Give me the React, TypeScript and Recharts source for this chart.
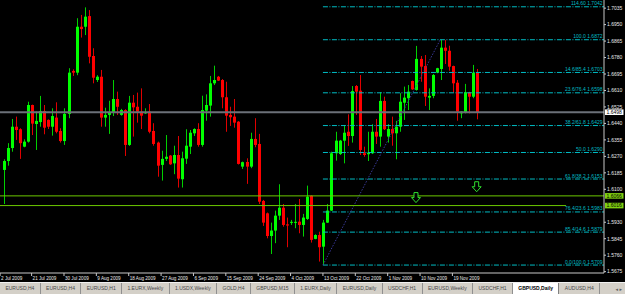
import { ComposedChart, Bar, XAxis, YAxis, ReferenceLine, ReferenceDot } from 'recharts';

// GBPUSD daily candles (bar 0 = first full candle on the left)
const OPEN = [
  1.6200, 1.6246, 1.6313, 1.6423, 1.6410, 1.6320, 1.6346, 1.6535, 1.6437, 1.6447,
  1.6504, 1.6458, 1.6423, 1.6470, 1.6401, 1.6349, 1.6489, 1.6711, 1.6702, 1.6939,
  1.6939, 1.6994, 1.6788, 1.6664, 1.6681, 1.6470, 1.6484, 1.6499, 1.6566, 1.6484,
  1.6509, 1.6329, 1.6547, 1.6526, 1.6501, 1.6492, 1.6501, 1.6401, 1.6341, 1.6226,
  1.6257, 1.6274, 1.6234, 1.6277, 1.6152, 1.6258, 1.6320, 1.6389, 1.6411, 1.6329,
  1.6506, 1.6532, 1.6647, 1.6681, 1.6664, 1.6575, 1.6484, 1.6475, 1.6449, 1.6217,
  1.6241, 1.6217, 1.6360, 1.6334, 1.6040, 1.5976, 1.5859, 1.5887, 1.5964, 1.6005,
  1.5919, 1.5928, 1.5928, 1.5933, 1.5916, 1.5947, 1.6067, 1.5844, 1.5864, 1.5804,
  1.5928, 1.5990, 1.6286, 1.6282, 1.6351, 1.6397, 1.6375, 1.6633, 1.6609, 1.6286,
  1.6281, 1.6286, 1.6397, 1.6372, 1.6556, 1.6372, 1.6411, 1.6389, 1.6423, 1.6547,
  1.6570, 1.6659, 1.6613, 1.6773, 1.6736, 1.6573, 1.6582, 1.6702, 1.6721, 1.6831,
  1.6815, 1.6736, 1.6650, 1.6492, 1.6498, 1.6601, 1.6578, 1.6702,
];
const HIGH = [
  1.6255, 1.6338, 1.6463, 1.6475, 1.6415, 1.6358, 1.6552, 1.6537, 1.6501, 1.6582,
  1.6535, 1.6461, 1.6518, 1.6549, 1.6415, 1.6518, 1.6725, 1.6719, 1.6983, 1.7000,
  1.7039, 1.7025, 1.6828, 1.6689, 1.6716, 1.6521, 1.6557, 1.6664, 1.6604, 1.6515,
  1.6513, 1.6582, 1.6587, 1.6599, 1.6621, 1.6518, 1.6540, 1.6441, 1.6346, 1.6299,
  1.6380, 1.6277, 1.6325, 1.6375, 1.6294, 1.6410, 1.6406, 1.6415, 1.6441, 1.6583,
  1.6590, 1.6685, 1.6738, 1.6685, 1.6669, 1.6655, 1.6526, 1.6566, 1.6452, 1.6243,
  1.6260, 1.6392, 1.6467, 1.6386, 1.6045, 1.5980, 1.5928, 1.5990, 1.6126, 1.6024,
  1.5954, 1.5942, 1.6024, 1.6050, 1.5973, 1.6119, 1.6069, 1.5868, 1.5881, 1.5942,
  1.6024, 1.6294, 1.6397, 1.6355, 1.6432, 1.6487, 1.6633, 1.6638, 1.6690, 1.6320,
  1.6397, 1.6436, 1.6463, 1.6601, 1.6578, 1.6437, 1.6475, 1.6453, 1.6596, 1.6630,
  1.6638, 1.6661, 1.6840, 1.6788, 1.6793, 1.6621, 1.6695, 1.6727, 1.6872, 1.6871,
  1.6841, 1.6738, 1.6664, 1.6503, 1.6644, 1.6603, 1.6742, 1.6721,
];
const LOW = [
  1.6024, 1.6222, 1.6294, 1.6355, 1.6257, 1.6317, 1.6341, 1.6380, 1.6303, 1.6423,
  1.6384, 1.6411, 1.6377, 1.6389, 1.6341, 1.6329, 1.6467, 1.6685, 1.6689, 1.6883,
  1.6896, 1.6750, 1.6647, 1.6654, 1.6423, 1.6423, 1.6386, 1.6478, 1.6484, 1.6480,
  1.6272, 1.6324, 1.6372, 1.6444, 1.6411, 1.6489, 1.6389, 1.6325, 1.6165, 1.6145,
  1.6246, 1.6226, 1.6178, 1.6109, 1.6109, 1.6231, 1.6282, 1.6375, 1.6320, 1.6320,
  1.6454, 1.6475, 1.6638, 1.6659, 1.6518, 1.6397, 1.6427, 1.6418, 1.6228, 1.6205,
  1.6128, 1.6209, 1.6317, 1.6024, 1.5911, 1.5847, 1.5766, 1.5822, 1.5942, 1.5907,
  1.5801, 1.5916, 1.5899, 1.5873, 1.5856, 1.5942, 1.5825, 1.5842, 1.5727, 1.5709,
  1.5926, 1.5988, 1.6248, 1.6277, 1.6234, 1.6324, 1.6341, 1.6484, 1.6277, 1.6268,
  1.6246, 1.6282, 1.6334, 1.6320, 1.6406, 1.6341, 1.6325, 1.6255, 1.6397, 1.6458,
  1.6509, 1.6613, 1.6609, 1.6655, 1.6530, 1.6509, 1.6570, 1.6699, 1.6664, 1.6747,
  1.6712, 1.6599, 1.6454, 1.6467, 1.6492, 1.6492, 1.6570, 1.6461,
];
const CLOSE = [
  1.6246, 1.6313, 1.6423, 1.6406, 1.6338, 1.6346, 1.6535, 1.6439, 1.6453, 1.6504,
  1.6418, 1.6423, 1.6478, 1.6397, 1.6349, 1.6489, 1.6702, 1.6702, 1.6939, 1.6927,
  1.6991, 1.6784, 1.6676, 1.6681, 1.6470, 1.6484, 1.6499, 1.6566, 1.6526, 1.6509,
  1.6329, 1.6547, 1.6523, 1.6501, 1.6480, 1.6499, 1.6397, 1.6334, 1.6222, 1.6257,
  1.6268, 1.6229, 1.6277, 1.6155, 1.6260, 1.6325, 1.6392, 1.6411, 1.6329, 1.6509,
  1.6535, 1.6647, 1.6664, 1.6661, 1.6575, 1.6480, 1.6472, 1.6444, 1.6231, 1.6240,
  1.6217, 1.6360, 1.6329, 1.6036, 1.5928, 1.5859, 1.5887, 1.5964, 1.6005, 1.5916,
  1.5913, 1.5932, 1.5932, 1.5916, 1.5954, 1.6062, 1.5839, 1.5864, 1.5801, 1.5928,
  1.5990, 1.6286, 1.6351, 1.6351, 1.6392, 1.6375, 1.6607, 1.6604, 1.6303, 1.6277,
  1.6289, 1.6397, 1.6372, 1.6556, 1.6410, 1.6411, 1.6389, 1.6423, 1.6552, 1.6573,
  1.6604, 1.6616, 1.6773, 1.6733, 1.6578, 1.6582, 1.6690, 1.6725, 1.6831, 1.6815,
  1.6733, 1.6647, 1.6501, 1.6501, 1.6601, 1.6578, 1.6702, 1.6498,
];

const PRICE_TICKS = [
  1.7035, 1.6950, 1.6865, 1.6780, 1.6695, 1.6610, 1.6525, 1.6440, 1.6355,
  1.6270, 1.6185, 1.6100, 1.5930, 1.5845, 1.5760, 1.5675,
];
const TICK_BARS = [-0.8, 7, 15, 23, 31, 39, 47, 55, 63, 71, 79, 87, 95, 103, 111];
const TICK_LABELS = [
  '2 Jul 2009', '21 Jul 2009', '30 Jul 2009', '9 Aug 2009', '18 Aug 2009',
  '27 Aug 2009', '6 Sep 2009', '15 Sep 2009', '24 Sep 2009', '4 Oct 2009',
  '13 Oct 2009', '22 Oct 2009', '1 Nov 2009', '10 Nov 2009', '19 Nov 2009',
];

const FIB_NAMES = [
  '114.60', '100.0', '14.6/85.4', '23.6/76.4', '38.2/61.8',
  '50.0', '61.8/38.2', '76.4/23.6', '85.4/14.6', '0.0/100.0',
];
const FIB_LEVELS = [1.7042, 1.6872, 1.6703, 1.6598, 1.6429, 1.6290, 1.6153, 1.5983, 1.5879, 1.5709];
const FIB_FROM = { bar: 79, price: 1.5709 };
const FIB_TO = { bar: 108, price: 1.6872 };

const GREEN_LINES = [1.6066, 1.6016];
const BID = 1.6498;
const ARROW_BARS = [102, 117];
const ARROW_PRICES = [1.6083, 1.6139];

const TABS = [
  'EURUSD,H4', 'EURUSD,H4', 'EURUSD,H1', '1.EURX,Weekly', '1.USDX,Weekly', 'GOLD,H4',
  'GBPUSD,M15', '1.EURX,Daily', 'EURUSD,Daily', 'USDCHF,H1', 'EURUSD,Weekly',
  'USDCHF,H1', 'GBPUSD,Daily', 'AUDUSD,H4',
];
const ACTIVE_TAB = 'GBPUSD,Daily';

const X_MIN = -0.816;
const X_MAX = 148.47;
const Y_MIN = 1.5668;
const Y_MAX = 1.7077;
const AXIS_Y = 273;
const FONT = '"Liberation Sans", Arial, sans-serif';
const FIB_COLOR = '#00bcc4';
const LINE_GREEN = '#6cc800';

const data = OPEN.map((open, i) => ({
  bar: i,
  open,
  high: HIGH[i],
  low: LOW[i],
  close: CLOSE[i],
  range: [LOW[i], HIGH[i]],
}));

const Candle = (props: any) => {
  const { x, y, width, height, payload } = props;
  if (!payload) return null;
  const { open, close, high, low } = payload;
  const cx = Math.round(x + width / 2) + 0.5;
  const k = height / (high - low);
  const yOf = (p: number) => y + (high - p) * k;
  const up = close >= open;
  const top = yOf(Math.max(open, close));
  const bot = yOf(Math.min(open, close));
  const body = up ? '#00ff00' : '#ff0000';
  const wick = up ? '#00d000' : '#e00000';
  return (
    <g>
      <line x1={cx} x2={cx} y1={y} y2={y + height} stroke={wick} strokeWidth={1} />
      <rect x={cx - 1.5} y={top} width={3} height={Math.max(bot - top, 1)} fill={body} />
    </g>
  );
};

const XTick = (props: any) => {
  const { x, index } = props;
  return (
    <g>
      <line x1={x} x2={x} y1={AXIS_Y} y2={AXIS_Y + 3} stroke="#c8c8c8" />
      <text x={x + 1} y={AXIS_Y + 6.5} fontSize={4.6} fontFamily={FONT} fill="#e8e8e8">
        {TICK_LABELS[index]}
      </text>
    </g>
  );
};

const YTick = (props: any) => {
  const { y, payload } = props;
  return (
    <g>
      <line x1={604} x2={606} y1={y} y2={y} stroke="#c8c8c8" />
      <text x={607} y={y + 1.8} fontSize={5} fontFamily={FONT} fill="#e8e8e8">
        {payload.value.toFixed(4)}
      </text>
    </g>
  );
};

const priceTag = (bg: string, text: string) => (props: any) => {
  const { cy } = props;
  return (
    <g>
      <rect x={605} y={cy - 2.8} width={18.5} height={5.6} fill={bg} />
      <text x={606.5} y={cy + 1.8} fontSize={5} fontFamily={FONT} fill="#000">
        {text}
      </text>
    </g>
  );
};

const fibLabel = (name: string, level: number) => (props: any) => {
  const { cx, cy } = props;
  return (
    <text x={cx - 1.5} y={cy - 1.5} textAnchor="end" fontSize={5} fontFamily={FONT} fill={FIB_COLOR}>
      {`${name}  ${level.toFixed(4)}`}
    </text>
  );
};

const DownArrow = (props: any) => {
  const { cx, cy } = props;
  const t = cy;
  const d = `M${cx - 2},${t} L${cx + 2},${t} L${cx + 2},${t + 5} L${cx + 4.5},${t + 5} L${cx},${t + 10} L${cx - 4.5},${t + 5} L${cx - 2},${t + 5} Z`;
  return <path d={d} fill="#000" stroke="#2ee02e" strokeWidth={1} />;
};

export default function App() {
  return (
    <div
      style={{
        position: 'absolute',
        left: 0,
        top: 0,
        width: 625,
        height: 294,
        background: '#000',
        overflow: 'hidden',
      }}
    >
      <ComposedChart width={625} height={294} data={data} margin={{ top: 0, right: 0, bottom: 0, left: 0 }}>
        <XAxis
          dataKey="bar"
          type="number"
          domain={[X_MIN, X_MAX]}
          allowDataOverflow
          ticks={TICK_BARS}
          interval={0}
          height={21}
          axisLine={{ stroke: '#c8c8c8' }}
          tickLine={false}
          tick={<XTick />}
        />
        <YAxis
          orientation="right"
          type="number"
          domain={[Y_MIN, Y_MAX]}
          allowDataOverflow
          ticks={PRICE_TICKS}
          interval={0}
          width={21}
          axisLine={{ stroke: '#c8c8c8' }}
          tickLine={false}
          tick={<YTick />}
        />
        <ReferenceLine y={BID} stroke="#6b7078" strokeWidth={2} ifOverflow="visible" />
        {FIB_LEVELS.map((lvl, i) => (
          <ReferenceLine
            key={`fib-${i}`}
            segment={[{ x: FIB_FROM.bar, y: lvl }, { x: X_MAX, y: lvl }]}
            stroke={FIB_COLOR}
            strokeDasharray="5 1.5 1 1.5"
            ifOverflow="visible"
          />
        ))}
        <ReferenceLine
          segment={[{ x: FIB_FROM.bar, y: FIB_FROM.price }, { x: FIB_TO.bar, y: FIB_TO.price }]}
          stroke="#3a3a9a"
          strokeDasharray="1.5 1.5"
          ifOverflow="visible"
        />
        <ReferenceLine y={GREEN_LINES[0]} stroke={LINE_GREEN} ifOverflow="visible" />
        <ReferenceLine
          segment={[{ x: X_MIN, y: GREEN_LINES[1] }, { x: 139.1, y: GREEN_LINES[1] }]}
          stroke={LINE_GREEN}
          ifOverflow="visible"
        />
        <Bar dataKey="range" barSize={3} isAnimationActive={false} shape={<Candle />} />
        {FIB_LEVELS.map((lvl, i) => (
          <ReferenceDot
            key={`fl-${i}`}
            x={X_MAX}
            y={lvl}
            ifOverflow="visible"
            shape={fibLabel(FIB_NAMES[i], lvl)}
          />
        ))}
        {ARROW_BARS.map((b, i) => (
          <ReferenceDot key={`ar-${i}`} x={b} y={ARROW_PRICES[i]} ifOverflow="visible" shape={<DownArrow />} />
        ))}
        <ReferenceDot x={X_MAX} y={BID} ifOverflow="visible" shape={priceTag('#ffffff', BID.toFixed(4))} />
        {GREEN_LINES.map((p, i) => (
          <ReferenceDot
            key={`gt-${i}`}
            x={X_MAX}
            y={p}
            ifOverflow="visible"
            shape={priceTag('#80d010', p.toFixed(4))}
          />
        ))}
      </ComposedChart>
      <div
        style={{
          position: 'absolute',
          left: 0,
          top: 282,
          width: 625,
          height: 12,
          background: '#d4d0c8',
          borderTop: '1px solid #f0f0f0',
          boxSizing: 'border-box',
          display: 'flex',
          alignItems: 'center',
          fontFamily: FONT,
          fontSize: 5,
          color: '#404040',
        }}
      >
        {TABS.map((t, i) => (
          <span
            key={i}
            style={{
              padding: '0 5.4px',
              height: 11,
              lineHeight: '11px',
              whiteSpace: 'nowrap',
              borderRight: t === ACTIVE_TAB ? '1px solid #808080' : '1px solid #909090',
              background: t === ACTIVE_TAB ? '#ffffff' : 'transparent',
              color: t === ACTIVE_TAB ? '#000' : '#484848',
              fontWeight: t === ACTIVE_TAB ? 'bold' : 'normal',
            }}
          >
            {t}
          </span>
        ))}
        <span style={{ marginLeft: 'auto', marginRight: 3, fontFamily: '"DejaVu Sans"', fontSize: 5, color: '#606060' }}>
          ◂ ▸
        </span>
      </div>
    </div>
  );
}
